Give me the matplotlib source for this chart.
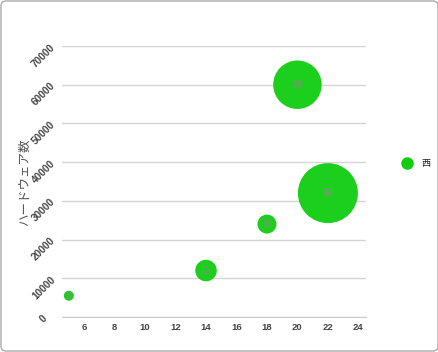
import matplotlib.pyplot as plt
from matplotlib.patches import FancyBboxPatch
from matplotlib.lines import Line2D

plt.rcParams['font.family'] = ['Liberation Sans', 'Noto Sans CJK JP', 'DejaVu Sans']

# bubble data: id label, x, y, size
ids = ["3", "12", "10", "33", "42"]
xs = [5, 14, 18, 20, 22]
ys = [5500, 12000, 24000, 60000, 32000]
sizes = [3, 12, 10, 33, 42]
series = "西"
ylabel = "ハードウェア数"
xticks = [6, 8, 10, 12, 14, 16, 18, 20, 22, 24]
yticks = [0, 10000, 20000, 30000, 40000, 50000, 60000, 70000]

green = "#1ccf1c"
dpi = 100

fig = plt.figure(figsize=(4.39, 3.52), dpi=dpi)
ax = fig.add_axes([62 / 439, 35 / 352, 304 / 439, 271 / 352])

# radius in px scaled linearly between 5 and 30 (like google charts sizeAxis)
smin, smax = min(sizes), max(sizes)
radii = [5 + (s - smin) / (smax - smin) * 25 for s in sizes]
areas = [(2 * r * 72 / dpi) ** 2 for r in radii]

ax.scatter(xs, ys, s=areas, color=green, edgecolors='none', zorder=3)
for i, x, y in zip(ids, xs, ys):
    ax.text(x, y, i, ha='center', va='center', fontsize=7, color='#8a8a8a', zorder=4)

ax.set_xlim(4.55, 24.5)
ax.set_ylim(0, 70000)
ax.set_xticks(xticks)
ax.set_yticks(yticks)
ax.grid(axis='y', color='#d4d4d4', linewidth=1)
ax.set_axisbelow(True)
for sp in ['top', 'right', 'left']:
    ax.spines[sp].set_visible(False)
ax.spines['bottom'].set_color('#cccccc')
ax.tick_params(length=0)
ax.tick_params(axis='x', pad=4, labelsize=6.8, labelcolor='#444444')
ax.tick_params(axis='y', pad=13, labelsize=7.2, labelcolor='#444444', labelrotation=45)
for lab in ax.get_xticklabels() + ax.get_yticklabels():
    lab.set_fontweight('bold')
for lab in ax.get_yticklabels():
    lab.set_horizontalalignment('center')

fig.text(25 / 439, 1 - 182 / 352, ylabel, rotation=90, ha='center', va='center',
         fontsize=9, color='#555555')

# legend drawn by hand in figure coordinates
fig.add_artist(Line2D([407 / 439], [1 - 163 / 352], marker='o', linestyle='none',
                      markersize=9, markerfacecolor='#11cc11', markeredgecolor='none',
                      transform=fig.transFigure))
fig.text(421 / 439, 1 - 163 / 352, series, ha='left', va='center', fontsize=6.5,
         color='#222222')

border = FancyBboxPatch((0.01, 0.01), 4.37, 3.5, boxstyle='round,pad=0,rounding_size=0.05',
                        transform=fig.dpi_scale_trans, facecolor='none',
                        edgecolor='#aaaaaa', linewidth=1)
fig.add_artist(border)

fig.savefig('out.png', dpi=dpi)
